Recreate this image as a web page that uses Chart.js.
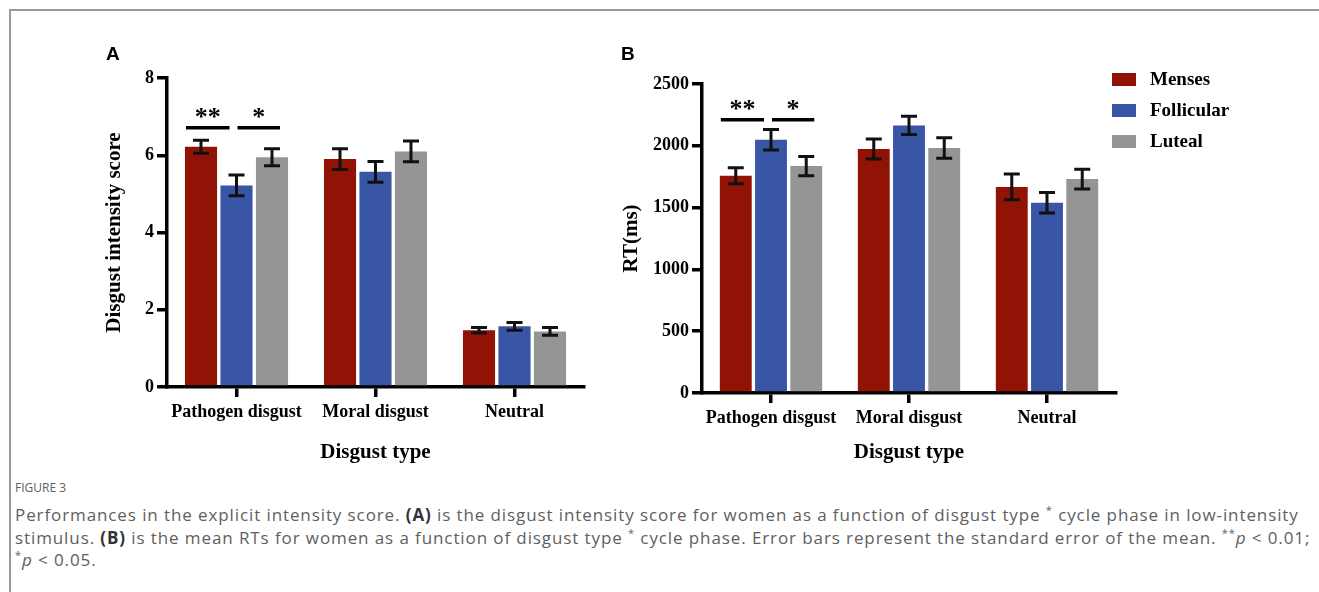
<!DOCTYPE html>
<html lang="en">
<head>
    <meta charset="UTF-8">
    <title>Figure 3</title>
    <script src="https://cdn.jsdelivr.net/npm/chart.js"></script>
    <style>
        body {
            margin: 0;
            padding: 0;
            background: #ffffff;
            width: 1319px;
            height: 592px;
            overflow: hidden;
            position: relative;
        }

        .frame {
            position: absolute;
            left: 9px;
            top: 9px;
            width: 1320px;
            height: 600px;
            border-top: 2px solid #999;
            border-left: 2px solid #999;
        }

        canvas {
            position: absolute;
            top: 0;
        }

        .panel-letter {
            position: absolute;
            font-family: "Liberation Sans", Arial, sans-serif;
            font-weight: bold;
            font-size: 19px;
            line-height: 19px;
            color: #000;
        }

        .caption {
            position: absolute;
            left: 15px;
            top: 479px;
            width: 1300px;
            font-family: "Open Sans", "Noto Sans", sans-serif;
            color: #606060;
        }

        .caption .fig {
            font-size: 12px;
            margin-bottom: 8px;
        }

        .caption .txt {
            font-size: 17px;
            letter-spacing: 0.9px;
            line-height: 22.5px;
            white-space: nowrap;
        }

        .caption sup {
            font-size: 0.65em;
            line-height: 0;
            vertical-align: baseline;
            position: relative;
            top: -0.6em;
        }

        .caption b {
            color: #333;
        }
    </style>
</head>
<body>
<div class="frame"></div>

<canvas id="chartA" width="600" height="470" style="left:0px"></canvas>
<canvas id="chartB" width="719" height="470" style="left:600px"></canvas>

<div class="panel-letter" style="left:106px; top:44px;">A</div>
<div class="panel-letter" style="left:621px; top:44px;">B</div>

<div class="caption">
    <div class="fig">FIGURE 3</div>
    <div class="txt">
        Performances in the explicit intensity score. <b>(A)</b> is the disgust intensity score for women as a function of disgust type <sup>*</sup> cycle phase in low-intensity<br>
        stimulus. <b>(B)</b> is the mean RTs for women as a function of disgust type <sup>*</sup> cycle phase. Error bars represent the standard error of the mean. <sup>**</sup><i>p</i> &lt; 0.01;<br>
        <sup>*</sup><i>p</i> &lt; 0.05.
    </div>
</div>

<script>
    // categories and series
    const categories = ['Pathogen disgust', 'Moral disgust', 'Neutral'];
    const phases = ['Menses', 'Follicular', 'Luteal'];
    const phaseColors = ['#911305', '#3955a5', '#959595'];

    // panel A: disgust intensity score (mean, SE)
    const scoreMenses = [6.22, 5.90, 1.47];
    const scoreFollicular = [5.22, 5.57, 1.57];
    const scoreLuteal = [5.95, 6.10, 1.44];
    const scoreSeMenses = [0.17, 0.27, 0.07];
    const scoreSeFollicular = [0.27, 0.27, 0.10];
    const scoreSeLuteal = [0.22, 0.27, 0.10];
    const scoreTicks = [0, 2, 4, 6, 8];

    // panel B: reaction time in ms (mean, SE)
    const rtMenses = [1758, 1974, 1667];
    const rtFollicular = [2049, 2165, 1540];
    const rtLuteal = [1836, 1982, 1731];
    const rtSeMenses = [65, 81, 104];
    const rtSeFollicular = [83, 74, 83];
    const rtSeLuteal = [78, 83, 80];
    const rtTicks = [0, 500, 1000, 1500, 2000, 2500];

    // significance brackets (value level of the line, in data units)
    const sigLevelA = 6.71;
    const sigLevelB = 2211;

    const SERIF = "'Liberation Serif', 'Times New Roman', serif";

    // error bars drawn through the value scale
    const errorBarPlugin = {
        id: 'errorBars',
        afterDatasetsDraw(chart, args, opts) {
            const ctx = chart.ctx;
            const yScale = chart.scales.y;
            ctx.save();
            ctx.strokeStyle = '#111';
            ctx.lineWidth = 3;
            chart.data.datasets.forEach((ds, i) => {
                const meta = chart.getDatasetMeta(i);
                meta.data.forEach((bar, j) => {
                    const v = ds.data[j];
                    const se = ds.errors[j];
                    const yTop = yScale.getPixelForValue(v + se);
                    const yBot = yScale.getPixelForValue(v - se);
                    const x = bar.x;
                    ctx.beginPath();
                    ctx.moveTo(x, yTop);
                    ctx.lineTo(x, yBot);
                    ctx.moveTo(x - 8, yTop);
                    ctx.lineTo(x + 8, yTop);
                    ctx.moveTo(x - 8, yBot);
                    ctx.lineTo(x + 8, yBot);
                    ctx.stroke();
                });
            });
            ctx.restore();
        }
    };

    // ** and * brackets over the pathogen group
    const sigPlugin = {
        id: 'sigMarks',
        afterDatasetsDraw(chart, args, opts) {
            const ctx = chart.ctx;
            const y = chart.scales.y.getPixelForValue(opts.level);
            const red = chart.getDatasetMeta(0).data[0];
            const blue = chart.getDatasetMeta(1).data[0];
            const gray = chart.getDatasetMeta(2).data[0];
            const segs = [
                [red.x - red.width / 2 + 1, blue.x - 7, '**'],
                [blue.x + 1, gray.x + 8, '*']
            ];
            ctx.save();
            ctx.strokeStyle = '#000';
            ctx.lineWidth = 3.5;
            ctx.fillStyle = '#000';
            ctx.font = 'bold 26px ' + SERIF;
            ctx.textAlign = 'center';
            ctx.textBaseline = 'alphabetic';
            segs.forEach(s => {
                ctx.beginPath();
                ctx.moveTo(s[0], y);
                ctx.lineTo(s[1], y);
                ctx.stroke();
                ctx.fillText(s[2], (s[0] + s[1]) / 2, y - 3);
            });
            ctx.restore();
        }
    };

    // legend boxes on the right of panel B
    const sideLegendPlugin = {
        id: 'sideLegend',
        afterDraw(chart, args, opts) {
            if (!opts.show) return;
            const ctx = chart.ctx;
            ctx.save();
            ctx.font = 'bold 19px ' + SERIF;
            ctx.textBaseline = 'middle';
            ctx.textAlign = 'left';
            chart.data.datasets.forEach((ds, i) => {
                const cy = opts.top + i * opts.step;
                ctx.fillStyle = ds.backgroundColor;
                ctx.fillRect(opts.left, cy - 6.5, 24, 13);
                ctx.fillStyle = '#000';
                ctx.fillText(ds.label, opts.left + 38, cy + 1);
            });
            ctx.restore();
        }
    };

    function makeDatasets(series, errors) {
        return series.map((s, i) => ({
            label: phases[i],
            data: s,
            errors: errors[i],
            backgroundColor: phaseColors[i],
            borderWidth: 0,
            categoryPercentage: 0.766,
            barPercentage: 0.905
        }));
    }

    function makeChart(id, cfg) {
        const axisStyle = {
            grid: {
                display: true,
                drawOnChartArea: false,
                drawTicks: true,
                tickLength: 10,
                lineWidth: 3.5,
                color: '#000',
                offset: false
            },
            border: { display: true, color: '#000', width: 3.5 }
        };
        return new Chart(document.getElementById(id), {
            type: 'bar',
            data: {
                labels: categories,
                datasets: makeDatasets(cfg.series, cfg.errors)
            },
            options: {
                responsive: false,
                animation: false,
                devicePixelRatio: 1,
                layout: {
                    padding: { left: 0, top: cfg.top, right: cfg.right, bottom: 0 }
                },
                plugins: {
                    legend: { display: false },
                    tooltip: { enabled: false },
                    sigMarks: { level: cfg.sigLevel },
                    sideLegend: cfg.legend
                },
                scales: {
                    x: {
                        type: 'category',
                        offset: true,
                        ...axisStyle,
                        ticks: {
                            color: '#000',
                            padding: 5,
                            font: { family: SERIF, size: 18, weight: 'bold' }
                        },
                        title: {
                            display: true,
                            text: 'Disgust type',
                            color: '#000',
                            font: { family: SERIF, size: 21, weight: 'bold' },
                            padding: { top: 0, bottom: 5 }
                        },
                        afterFit(scale) { scale.height = cfg.xHeight; }
                    },
                    y: {
                        min: 0,
                        max: cfg.ticks[cfg.ticks.length - 1],
                        ...axisStyle,
                        afterBuildTicks(scale) {
                            scale.ticks = cfg.ticks.map(v => ({ value: v }));
                        },
                        ticks: {
                            color: '#000',
                            padding: 3,
                            font: { family: SERIF, size: 18, weight: 'bold' },
                            callback: (v) => String(v)
                        },
                        title: {
                            display: true,
                            text: cfg.yTitle,
                            color: '#000',
                            font: { family: SERIF, size: 21, weight: 'bold' },
                            padding: { top: cfg.yTitlePad, bottom: 0 }
                        },
                        afterFit(scale) { scale.width = cfg.yWidth; }
                    }
                }
            },
            plugins: [errorBarPlugin, sigPlugin, sideLegendPlugin]
        });
    }

    makeChart('chartA', {
        series: [scoreMenses, scoreFollicular, scoreLuteal],
        errors: [scoreSeMenses, scoreSeFollicular, scoreSeLuteal],
        ticks: scoreTicks,
        yTitle: 'Disgust intensity score',
        yTitlePad: 102,
        yWidth: 167,
        top: 78,
        right: 16,
        xHeight: 83,
        sigLevel: sigLevelA,
        legend: { show: false }
    });

    makeChart('chartB', {
        series: [rtMenses, rtFollicular, rtLuteal],
        errors: [rtSeMenses, rtSeFollicular, rtSeLuteal],
        ticks: rtTicks,
        yTitle: 'RT(ms)',
        yTitlePad: 19,
        yWidth: 102,
        top: 84,
        right: 203,
        xHeight: 77,
        sigLevel: sigLevelB,
        legend: { show: true, left: 512, top: 79.5, step: 31 }
    });
</script>
</body>
</html>
